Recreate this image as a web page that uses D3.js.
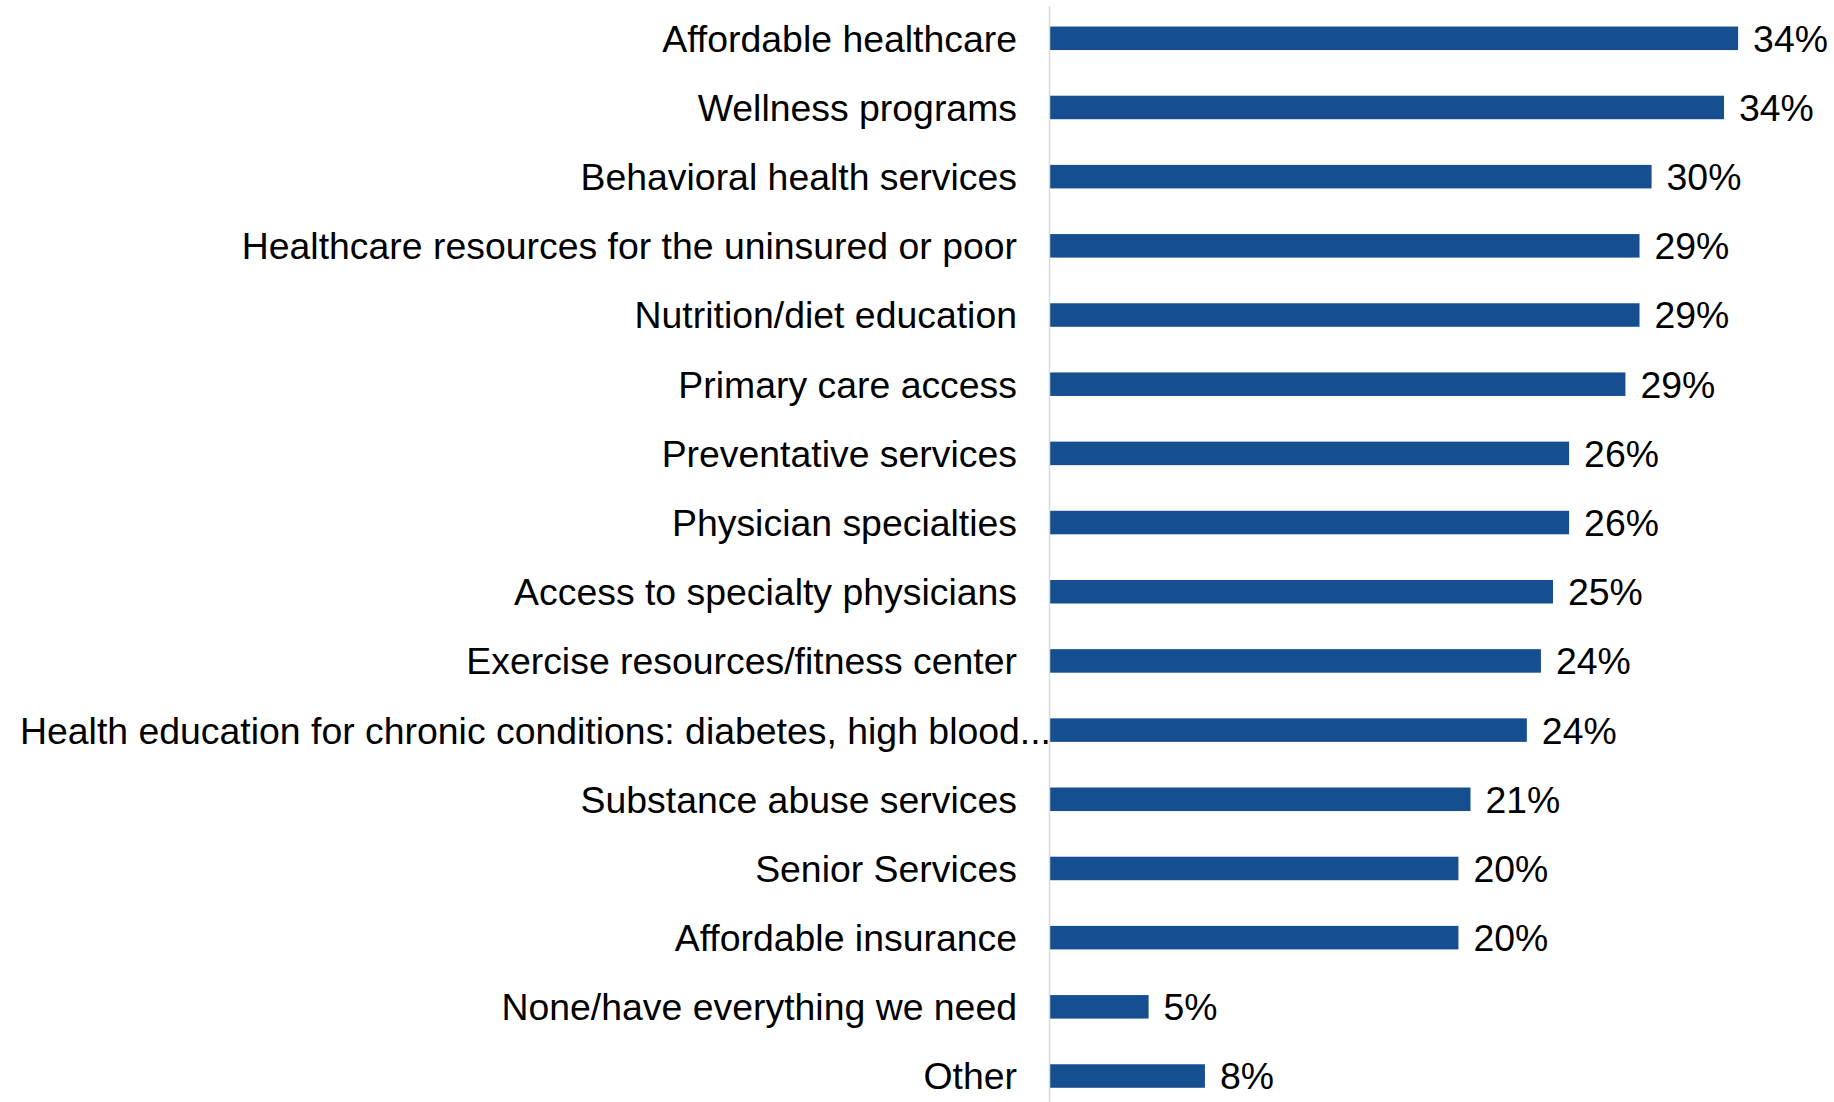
<!DOCTYPE html>
<html>
<head>
<meta charset="utf-8">
<script src="https://cdn.jsdelivr.net/npm/d3@7"></script>
<style>
  html, body { margin: 0; padding: 0; background: #fff; }
  svg { display: block; }
  text { font-family: "Liberation Sans", Arial, sans-serif; }
</style>
</head>
<body>
<svg id="chart" width="1834" height="1102"></svg>
<script>
const categories = [
  "Affordable healthcare",
  "Wellness programs",
  "Behavioral health services",
  "Healthcare resources for the uninsured or poor",
  "Nutrition/diet education",
  "Primary care access",
  "Preventative services",
  "Physician specialties",
  "Access to specialty physicians",
  "Exercise resources/fitness center",
  "Health education for chronic conditions: diabetes, high blood...",
  "Substance abuse services",
  "Senior Services",
  "Affordable insurance",
  "None/have everything we need",
  "Other"
];
const values = [34.2, 33.5, 29.9, 29.3, 29.3, 28.6, 25.8, 25.8, 25.0, 24.4, 23.7, 20.9, 20.3, 20.3, 4.9, 7.7];

const W = 1834, H = 1102;
const axisX = 1050;
const svg = d3.select("#chart");

const x = d3.scaleLinear().domain([0, 35]).range([axisX, axisX + 35 * 20.12]);
const y = d3.scaleBand().domain(categories).range([3.7, 1110.6])
  .paddingInner(0.66).paddingOuter(0.33);

// bars
svg.append("g").selectAll("rect").data(values).join("rect")
  .attr("x", x(0))
  .attr("y", (d, i) => y(categories[i]))
  .attr("width", d => x(d) - x(0))
  .attr("height", y.bandwidth())
  .attr("fill", "#154f8f");

// axis line
svg.append("line")
  .attr("x1", axisX - 0.5).attr("x2", axisX - 0.5)
  .attr("y1", 6).attr("y2", H)
  .attr("stroke", "#d9d9d9").attr("stroke-width", 1.5);

// category labels
const yAxis = svg.append("g")
  .attr("transform", `translate(${axisX},0)`)
  .call(d3.axisLeft(y).tickSize(0).tickPadding(33));
yAxis.select(".domain").remove();
yAxis.selectAll("text")
  .attr("font-family", "'Liberation Sans', Arial, sans-serif")
  .attr("font-size", 37.4)
  .attr("fill", "#000")
  .attr("dy", "0.36em")
  .filter(d => d.endsWith("..."))
  .attr("x", 1);

// value labels
svg.append("g").selectAll("text").data(values).join("text")
  .attr("x", d => x(d) + 15)
  .attr("y", (d, i) => y(categories[i]) + y.bandwidth() / 2)
  .attr("dy", "0.36em")
  .attr("font-size", 37.4)
  .attr("fill", "#000")
  .text(d => Math.round(d) + "%");
</script>
</body>
</html>
